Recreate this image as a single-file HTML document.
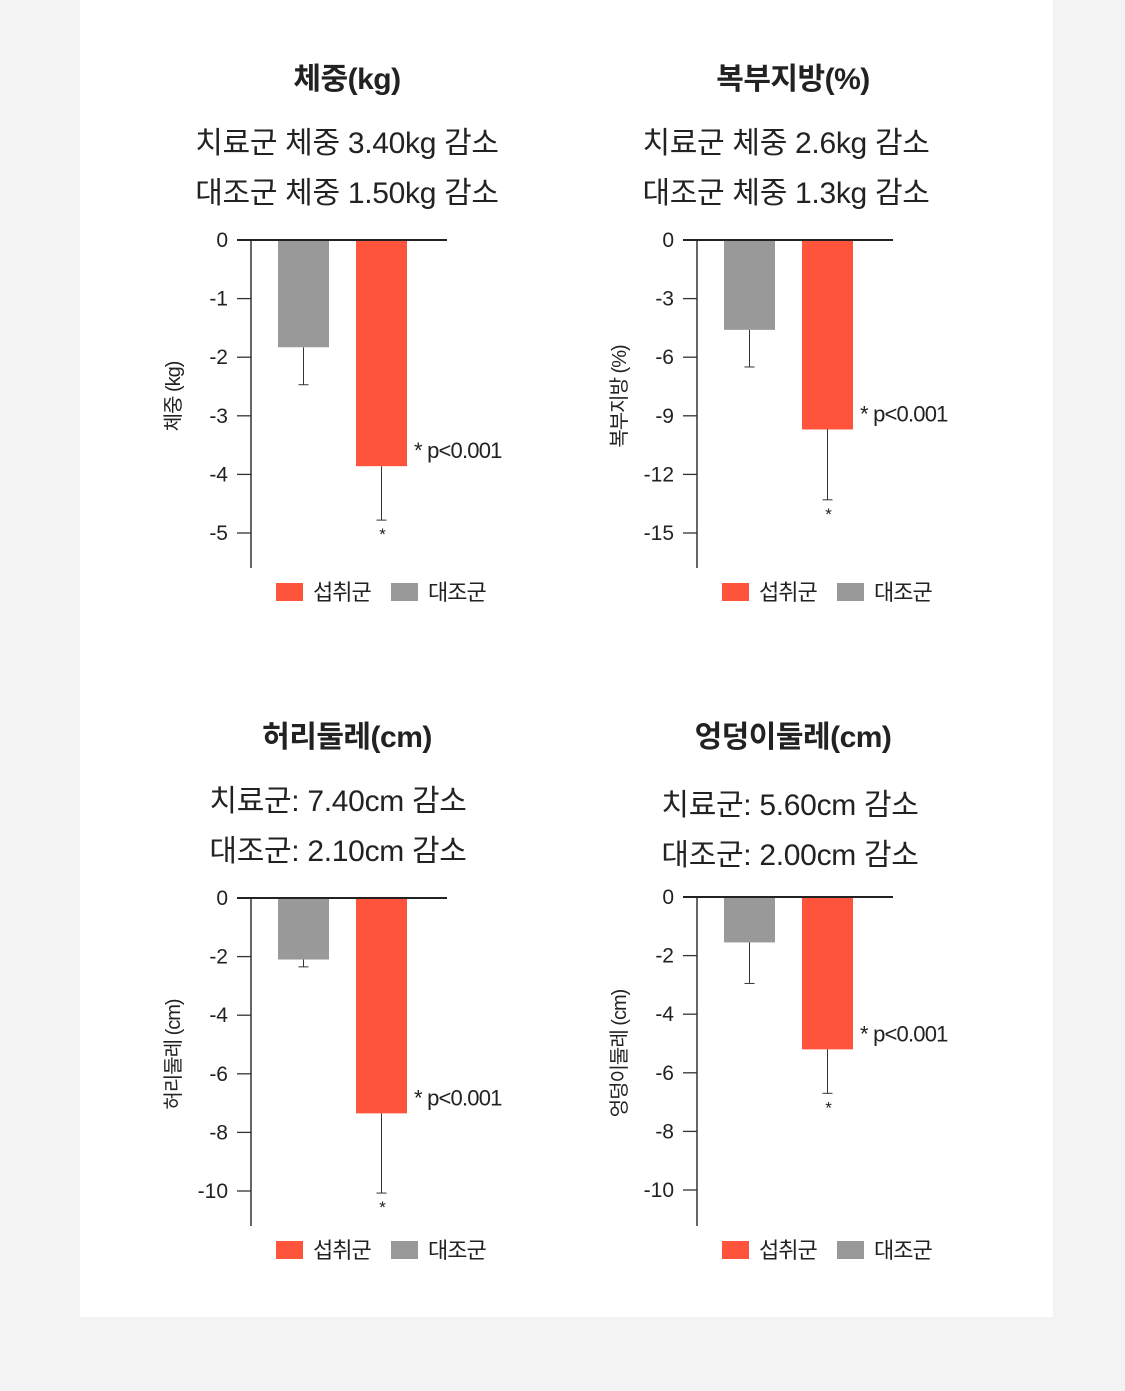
<!DOCTYPE html>
<html><head><meta charset="utf-8">
<style>
body{margin:0;width:1125px;height:1391px;background:#f3f3f3;overflow:hidden;font-family:"Liberation Sans","Noto Sans CJK KR",sans-serif;}
#panel{position:absolute;left:80px;top:0;width:973px;height:1317px;background:#fff;}
svg{position:absolute;left:0;top:0;}
</style></head><body>
<div id="panel"></div>
<svg id="svg" width="1125" height="1391" xmlns="http://www.w3.org/2000/svg"></svg>
<script>
const titles = ["체중(kg)", "복부지방(%)", "허리둘레(cm)", "엉덩이둘레(cm)"];
const subtitles1 = ["치료군 체중 3.40kg 감소", "치료군 체중 2.6kg 감소", "치료군: 7.40cm 감소", "치료군: 5.60cm 감소"];
const subtitles2 = ["대조군 체중 1.50kg 감소", "대조군 체중 1.3kg 감소", "대조군: 2.10cm 감소", "대조군: 2.00cm 감소"];
const axisTitles = ["체중 (kg)", "복부지방 (%)", "허리둘레 (cm)", "엉덩이둘레 (cm)"];
const controlValues = [-1.83, -4.6, -2.1, -1.55];
const controlErrors = [-2.47, -6.5, -2.35, -2.95];
const treatValues = [-3.86, -9.7, -7.35, -5.2];
const treatErrors = [-4.78, -13.3, -10.07, -6.7];
const tickLabels0 = [0, -1, -2, -3, -4, -5];
const tickLabels1 = [0, -3, -6, -9, -12, -15];
const tickLabels2 = [0, -2, -4, -6, -8, -10];
const tickLabels3 = [0, -2, -4, -6, -8, -10];
const allTicks = [tickLabels0, tickLabels1, tickLabels2, tickLabels3];
const legendLabels = ["섭취군", "대조군"];

const NS = "http://www.w3.org/2000/svg";
const svg = document.getElementById('svg');
function mk(tag, attrs, parent, text){
  const e = document.createElementNS(NS, tag);
  for (const k in attrs) e.setAttribute(k, attrs[k]);
  if (text !== undefined) e.textContent = text;
  (parent || svg).appendChild(e);
  return e;
}
const layout = [
  {ox:0, oy:0, sub1:143, sub2:193, sc:347},
  {ox:446, oy:0, sub1:143, sub2:193, sc:340},
  {ox:0, oy:658, sub1:801, sub2:851, sc:338},
  {ox:446, oy:658, sub1:805, sub2:855, sc:344}
];
const RED = "#ff543c", GRAY = "#999999", TXT = "#222";
for (let i = 0; i < 4; i++) {
  const L = layout[i], ox = L.ox, oy = L.oy;
  const g = mk('g', {});
  
  
  const ticks = allTicks[i];
  const minV = ticks[ticks.length - 1];
  const zeroY = 240 + oy - (i === 3 ? 1 : 0), bottomTickY = 533 + oy - (i === 3 ? 1 : 0);
  const y = v => zeroY + (v / minV) * (bottomTickY - zeroY);
  const axX = 251 + ox;
  let t = mk('text', {x:347 + ox, y:89 + oy, 'text-anchor':'middle', 'font-size':30, 'font-weight':'bold', fill:TXT, 'letter-spacing':'-0.5'}, g, titles[i]);
   
  t = mk('text', {x:L.sc + ox, y:L.sub1 + 10, 'text-anchor':'middle', 'font-size':30, fill:TXT, 'letter-spacing':'-0.3'}, g, subtitles1[i]);
   
  t = mk('text', {x:L.sc + ox, y:L.sub2 + 10, 'text-anchor':'middle', 'font-size':30, fill:TXT, 'letter-spacing':'-0.3'}, g, subtitles2[i]);
   
  let a = mk('line', {x1:axX, y1:zeroY, x2:axX, y2:568 + oy, stroke:'#333', 'stroke-width':1.5}, g);
   
  ticks.forEach(v => {
    const ty = y(v);
    const tl = mk('line', {x1:axX - 14, y1:ty, x2:axX, y2:ty, stroke:'#333', 'stroke-width':1.3}, g);
     
    const tt = mk('text', {x:axX - 23, y:ty + 7, 'text-anchor':'end', 'font-size':21, fill:TXT}, g, String(v));
     
  });
  const at = mk('text', {transform:'translate(' + (180 + ox) + ',' + (y(minV * 0.5) + 10) + ') rotate(-90)', 'text-anchor':'middle', 'font-size':20, fill:TXT, 'letter-spacing':'-1'}, g, axisTitles[i]);
   
  const gx = 278 + ox, rx = 356 + ox, bw = 51;
  let e = mk('line', {x1:gx + bw / 2, y1:y(controlValues[i]), x2:gx + bw / 2, y2:y(controlErrors[i]), stroke:'#333', 'stroke-width':1}, g);
   
  e = mk('line', {x1:gx + bw / 2 - 5, y1:y(controlErrors[i]), x2:gx + bw / 2 + 5, y2:y(controlErrors[i]), stroke:'#333', 'stroke-width':1}, g);
   
  let b = mk('rect', {x:gx, y:zeroY, width:bw, height:y(controlValues[i]) - zeroY, fill:GRAY}, g);
   
  e = mk('line', {x1:rx + bw / 2, y1:y(treatValues[i]), x2:rx + bw / 2, y2:y(treatErrors[i]), stroke:'#333', 'stroke-width':1}, g);
   
  e = mk('line', {x1:rx + bw / 2 - 5, y1:y(treatErrors[i]), x2:rx + bw / 2 + 5, y2:y(treatErrors[i]), stroke:'#333', 'stroke-width':1}, g);
   
  b = mk('rect', {x:rx, y:zeroY, width:bw, height:y(treatValues[i]) - zeroY, fill:RED}, g);
   
  const st = mk('text', {x:rx + bw / 2 + 1, y:y(treatErrors[i]) + 20, 'text-anchor':'middle', 'font-size':17, fill:TXT}, g, '*');
   
  const pv = mk('text', {x:rx + bw + 7, y:y(treatValues[i]) - 8, 'font-size':22, fill:TXT, 'letter-spacing':'-0.8'}, g, '* p<0.001');
   
  a = mk('line', {x1:axX - 14, y1:zeroY, x2:447 + ox, y2:zeroY, stroke:'#222', 'stroke-width':2}, g);
   
  const ly = 583 + oy;
  let r = mk('rect', {x:276 + ox, y:ly, width:27, height:18, fill:RED}, g);
   
  let lt = mk('text', {x:313 + ox, y:ly + 17, 'font-size':22, fill:TXT, 'letter-spacing':'-1'}, g, legendLabels[0]);
   
  r = mk('rect', {x:391 + ox, y:ly, width:27, height:18, fill:GRAY}, g);
   
  lt = mk('text', {x:428 + ox, y:ly + 17, 'font-size':22, fill:TXT, 'letter-spacing':'-1'}, g, legendLabels[1]);
   
}
</script>
</body></html>
